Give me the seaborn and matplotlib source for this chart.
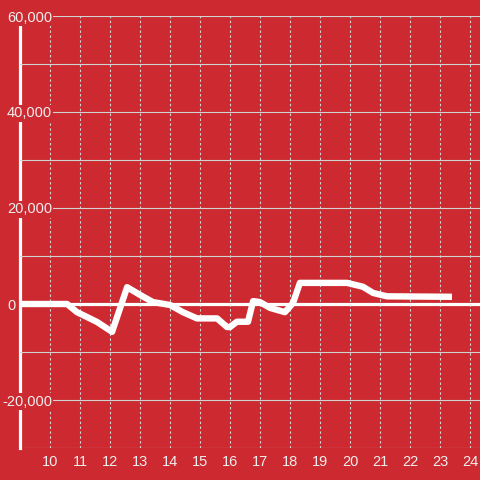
import matplotlib
matplotlib.use("Agg")
import matplotlib.pyplot as plt
import seaborn as sns
import pandas as pd
from matplotlib.ticker import MultipleLocator, FixedLocator, FuncFormatter

hours = [9.0, 10.57, 10.9, 11.23, 11.57, 12.07, 12.57, 13.0, 13.43, 14.0, 14.43,
         14.9, 15.57, 15.9, 16.0, 16.23, 16.6, 16.77, 17.0, 17.33, 17.83, 18.1,
         18.33, 19.9, 20.43, 20.77, 21.23, 23.4]
values = [0, 0, -1700, -2700, -3750, -5800, 3500, 1900, 400, -200, -1700,
          -3000, -3000, -4800, -4800, -3700, -3700, 600, 400, -800, -1700, 200,
          4400, 4400, 3600, 2300, 1600, 1500]
y_ticks = [-20000, 20000, 40000, 60000]
zero_tick = [0]
x_ticks = list(range(10, 25))

bg = "#cc2a30"
txt = "#eeeeee"
grid = "#d2d2d2"

sns.set_theme(style="white")
plt.rcParams["font.family"] = ["Liberation Sans", "DejaVu Sans"]
plt.rcParams["axes.unicode_minus"] = False

df = pd.DataFrame({"hour": hours, "value": values})

fig = plt.figure(figsize=(4.8, 4.8), dpi=100, facecolor=bg)
ax = fig.add_axes([20/480, 32/480, 460/480, 432/480])
ax.set_facecolor(bg)
ax.set_axisbelow(True)

ax.axhline(0, color="white", lw=2.3, zorder=1)
sns.lineplot(data=df, x="hour", y="value", ax=ax, color="white", lw=4.6,
             zorder=3, solid_joinstyle="round", solid_capstyle="butt")

ax.set_xlim(9, 9 + 460/30)
ax.set_ylim(-30000, -30000 + 432/48*10000)

fmt = FuncFormatter(lambda v, p: f"{int(v):,}")
ax.yaxis.set_major_locator(FixedLocator(y_ticks))
ax.yaxis.set_minor_locator(MultipleLocator(10000))
ax.yaxis.set_major_formatter(fmt)
ax.xaxis.set_major_locator(FixedLocator(x_ticks))

ax.grid(axis="y", which="both", color=grid, lw=0.8, ls="-")
ax.grid(axis="x", which="major", color=grid, lw=0.8, ls=(0, (2.2, 2.2)))

ax.set_xlabel("")
ax.set_ylabel("")

for s in ["top", "right", "bottom"]:
    ax.spines[s].set_visible(False)
ax.spines["left"].set_color("white")
ax.spines["left"].set_linewidth(2.3)
ax.spines["left"].set_bounds(-30000, 58333)
ax.spines["left"].set_zorder(0.4)

ax.tick_params(axis="y", which="both", length=0, pad=-23, labelsize=10.5, labelcolor=txt)
ax.tick_params(axis="x", which="both", length=0, pad=5, labelsize=10.5, labelcolor=txt)
for lbl in ax.get_yticklabels():
    lbl.set_bbox(dict(facecolor=bg, edgecolor="none", pad=1.0))

sec = ax.secondary_yaxis("left")
sec.spines["left"].set_visible(False)
sec.yaxis.set_major_locator(FixedLocator(zero_tick))
sec.yaxis.set_minor_locator(FixedLocator([]))
sec.yaxis.set_major_formatter(fmt)
sec.tick_params(axis="y", which="both", length=0, pad=3.5, labelsize=10.5, labelcolor=txt)

fig.savefig("out.png", dpi=100, facecolor=bg)
